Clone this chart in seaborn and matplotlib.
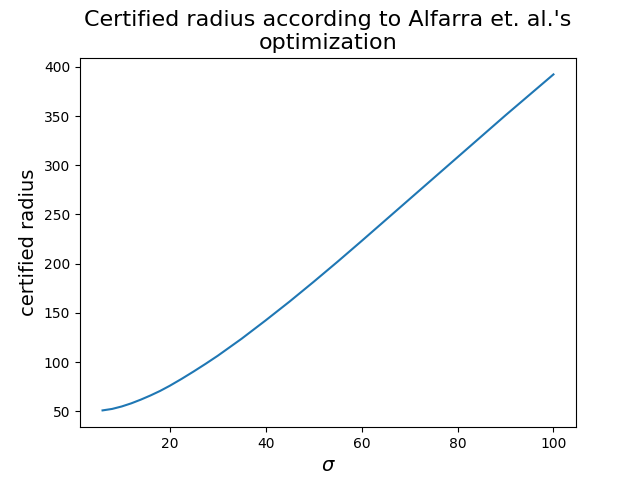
import numpy as np
import pandas as pd
import matplotlib
matplotlib.use("Agg")
import matplotlib.pyplot as plt
import seaborn as sns

# values
sigma = [6, 8, 10, 12, 14, 16, 18, 20, 22.5, 25, 27.5, 30, 35, 40, 45, 50,
         55, 60, 65, 70, 75, 80, 85, 90, 95, 100]
radius = [50.8, 52.3, 54.8, 58.0, 61.8, 66.0, 70.6, 75.8, 82.9, 90.4, 98.2,
          106.3, 123.7, 142.3, 161.5, 181.5, 202.0, 223.0, 244.3, 265.6,
          286.9, 308.2, 329.5, 350.8, 371.6, 392.4]

df = pd.DataFrame({"sigma": sigma, "radius": radius})

fig, ax = plt.subplots(figsize=(6.4, 4.8), dpi=100)
sns.lineplot(data=df, x="sigma", y="radius", ax=ax, color="#1f77b4")

ax.set_title("Certified radius according to Alfarra et. al.'s\noptimization", fontsize=16)
ax.set_xlabel(r"$\sigma$", fontsize=14)
ax.set_ylabel("certified radius", fontsize=14)

plt.savefig("out.png", dpi=100)
